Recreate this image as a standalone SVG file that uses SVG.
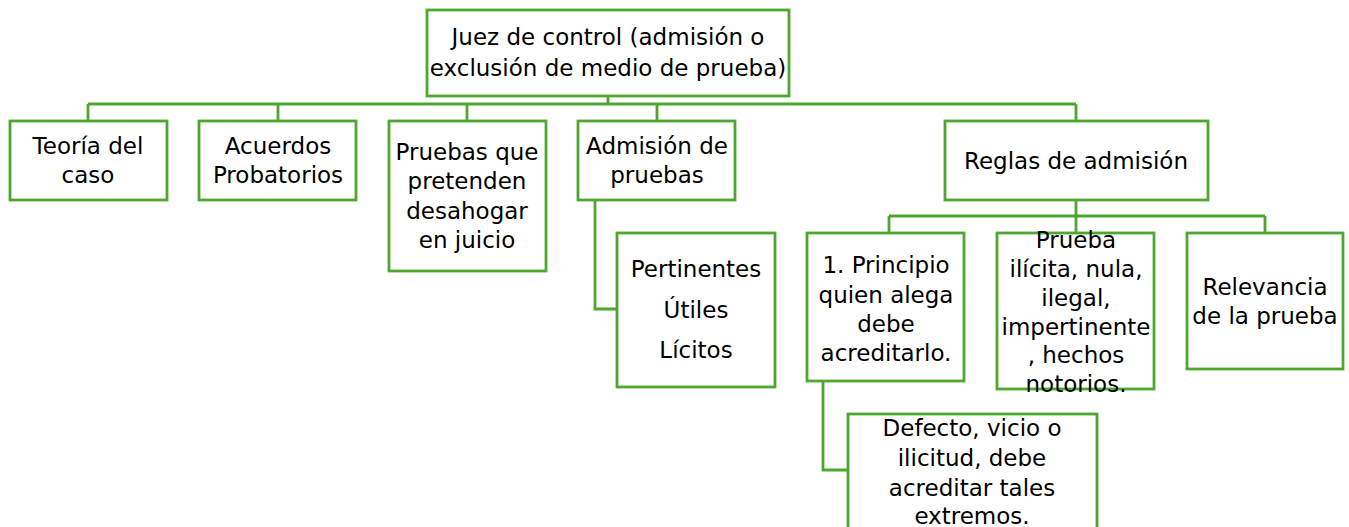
<svg xmlns="http://www.w3.org/2000/svg" width="1349" height="527" viewBox="0 0 1349 527">
<style>
.box{fill:#fff;stroke:#4EA72E;stroke-width:2.8}
.con{fill:none;stroke:#4EA72E;stroke-width:2.8}
text{font-family:"DejaVu Sans","Liberation Sans",sans-serif;font-size:23px;fill:#000;text-anchor:middle}
</style>
<rect width="1349" height="527" fill="#fff"/>
<g id="connectors">
<path class="con" d="M608 96V104M88 104H1076M88 104V121M278 104V121M467 104V121M657 104V121M1076 104V121"/>
<path class="con" d="M595 200V309H617"/>
<path class="con" d="M1076 200V216M889 216H1265M889 216V233M1076 216V233M1265 216V233"/>
<path class="con" d="M823 381V470H848"/>
</g>
<g id="n-root"><rect class="box" x="427" y="10" width="362" height="86"/><text x="608" y="45">Juez de control (admisión o</text><text x="608" y="76">exclusión de medio de prueba)</text></g>
<g id="n-teoria"><rect class="box" x="10" y="121" width="157" height="79"/><text x="88" y="154">Teoría del</text><text x="88" y="183">caso</text></g>
<g id="n-acuerdos"><rect class="box" x="199" y="121" width="157" height="79"/><text x="278" y="154">Acuerdos</text><text x="278" y="183">Probatorios</text></g>
<g id="n-pruebas"><rect class="box" x="389" y="121" width="157" height="150"/><text x="467" y="160">Pruebas que</text><text x="467" y="189">pretenden</text><text x="467" y="219">desahogar</text><text x="467" y="248">en juicio</text></g>
<g id="n-admision"><rect class="box" x="578" y="121" width="157" height="79"/><text x="657" y="154">Admisión de</text><text x="657" y="183">pruebas</text></g>
<g id="n-reglas"><rect class="box" x="945" y="121" width="263" height="79"/><text x="1076" y="169">Reglas de admisión</text></g>
<g id="n-pertinentes"><rect class="box" x="617" y="233" width="158" height="154"/><text x="696" y="277">Pertinentes</text><text x="696" y="318">Útiles</text><text x="696" y="358">Lícitos</text></g>
<g id="n-principio"><rect class="box" x="807" y="233" width="157" height="148"/><text x="886" y="273">1. Principio</text><text x="886" y="303">quien alega</text><text x="886" y="332">debe</text><text x="886" y="361">acreditarlo.</text></g>
<g id="n-ilicita"><rect class="box" x="997" y="233" width="157" height="156"/><text x="1076" y="248">Prueba</text><text x="1076" y="277">ilícita, nula,</text><text x="1076" y="306">ilegal,</text><text x="1076" y="335">impertinente</text><text x="1076" y="363">, hechos</text><text x="1076" y="392">notorios.</text></g>
<g id="n-relevancia"><rect class="box" x="1187" y="233" width="156" height="136"/><text x="1265" y="295">Relevancia</text><text x="1265" y="324">de la prueba</text></g>
<g id="n-defecto"><rect class="box" x="848" y="414" width="249" height="130"/><text x="972" y="436">Defecto, vicio o</text><text x="972" y="466">ilicitud, debe</text><text x="972" y="496">acreditar tales</text><text x="972" y="524">extremos.</text></g>
</svg>
